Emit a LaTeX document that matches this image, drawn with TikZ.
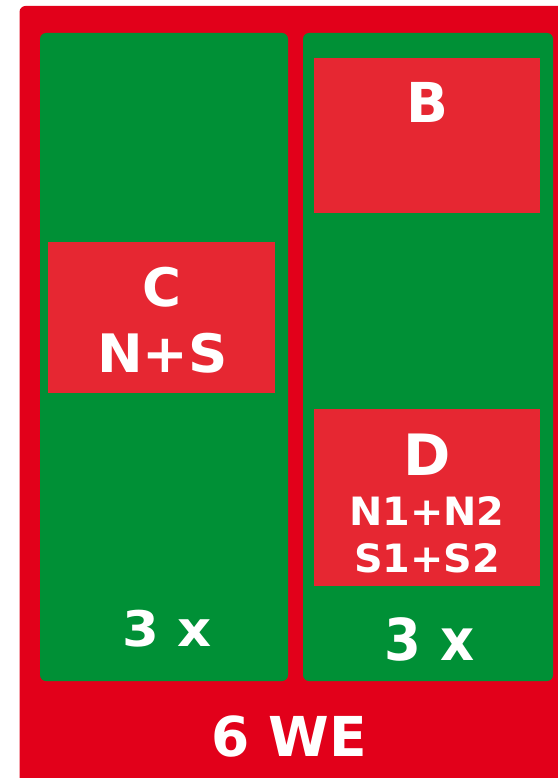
\documentclass[tikz,border=0pt]{standalone}
\usepackage{fontspec}
\setmainfont{DejaVu Sans}
\definecolor{outerred}{RGB}{226,0,26}
\definecolor{colgreen}{RGB}{0,144,54}
\definecolor{boxred}{RGB}{230,39,50}
\begin{document}
\begin{tikzpicture}[x=1pt,y=-1pt,
  colbox/.style={fill=colgreen, rounded corners=6pt},
  redbox/.style={fill=boxred},
  lbl/.style={text=white, font=\bfseries, anchor=base, inner sep=0pt},
  big/.style={lbl, font=\bfseries\fontsize{55}{60}\selectfont},
  mid/.style={lbl, font=\bfseries\fontsize{39}{44}\selectfont},
  cnt/.style={lbl, font=\bfseries\fontsize{49}{54}\selectfont}]
\useasboundingbox (0,0) rectangle (557,778);
% outer red panel
\fill[outerred, rounded corners=6pt] (19.5,6) rectangle (580,800);
% green columns
\fill[colbox] (40,33) rectangle (288,681);
\fill[colbox] (303,33) rectangle (553,681);
% red boxes
\fill[redbox] (314,58) rectangle (540,213);
\fill[redbox] (48,242) rectangle (275,393);
\fill[redbox] (314,409) rectangle (540,586);
% labels
\node[big] (b) at (427,123) {B};
\node[big, font=\bfseries\fontsize{53}{58}\selectfont] (c) at (162,306) {C};
\node[big, font=\bfseries\fontsize{53}{58}\selectfont, xscale=1.03] (ns) at (162.5,372) {N+S};
\node[big, font=\bfseries\fontsize{57}{62}\selectfont] (d) at (427,475) {D};
\node[mid, xscale=1.02] (n12) at (427,525) {N1+N2};
\node[mid, xscale=1.02] (s12) at (427,572) {S1+S2};
\node[cnt, xscale=1.08] (c1) at (167,646) {3 x};
\node[cnt, xscale=1.08, yscale=1.18] (c2) at (429.5,660) {3 x};
\node[big] (we) at (289,756) {6 WE};
\end{tikzpicture}
\end{document}
